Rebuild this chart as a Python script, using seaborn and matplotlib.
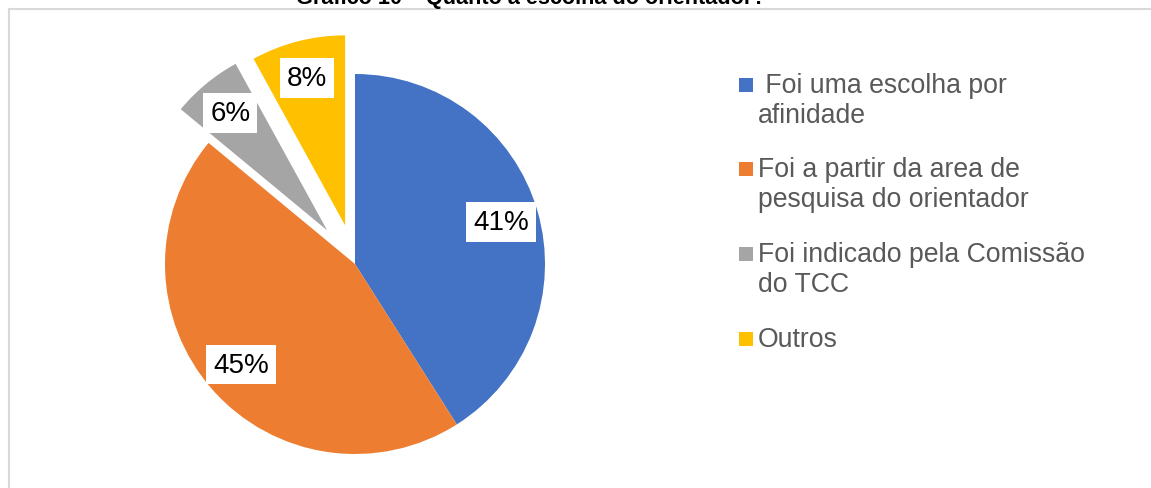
import matplotlib
matplotlib.use("Agg")
import matplotlib.pyplot as plt
import seaborn as sns
from matplotlib.lines import Line2D
from matplotlib.patches import Rectangle

categories = [" Foi uma escolha por\nafinidade",
              "Foi a partir da area de\npesquisa do orientador",
              "Foi indicado pela Comissão\ndo TCC",
              "Outros"]
values = [41, 45, 6, 8]
pct_labels = ["41%", "45%", "6%", "8%"]
colors = ["#4472C4", "#ED7D31", "#A5A5A5", "#FFC000"]
explode = [0, 0, 0.23, 0.21]
title = "Gráfico 10 – Quanto à escolha do orientador?"

sns.set_theme(style="white")
plt.rcParams["font.family"] = ["Liberation Sans", "DejaVu Sans"]

W, H = 1151, 489
fig = plt.figure(figsize=(W / 100, H / 100), dpi=100)

R = 190.0
cx, cy = 355.0, 265.0
half = 1.4
ax = fig.add_axes([(cx - half * R) / W, (H - cy - half * R) / H, 2 * half * R / W, 2 * half * R / H])

wedges, texts = ax.pie(values, colors=colors, startangle=90, counterclock=False,
                       explode=explode, labels=pct_labels, labeldistance=0.8,
                       textprops=dict(fontsize=20, color="black", ha="center", va="center"),
                       wedgeprops=dict(linewidth=0))
for t in texts:
    t.set_bbox(dict(facecolor="white", edgecolor="none", pad=5))
ax.set_xlim(-half, half)
ax.set_ylim(-half, half)
ax.axis("off")

fig.text(530.5 / W, 1 - 4 / H, title, ha="center", va="baseline", fontweight="bold", fontsize=15.6, color="black")

fig.add_artist(Line2D([9 / W, 1], [1 - 10 / H, 1 - 10 / H], color="#D9D9D9", linewidth=1.5, transform=fig.transFigure))
fig.add_artist(Line2D([9 / W, 9 / W], [0, 1 - 10 / H], color="#D9D9D9", linewidth=1.5, transform=fig.transFigure))

# legend (drawn manually so squares align with the first line of each label)
leg_y = [86, 170, 255, 340]
sq = 14
line_h = 30
for i, (lab, col) in enumerate(zip(categories, colors)):
    yc = leg_y[i]
    n = lab.count("\n")
    fig.add_artist(Rectangle((739 / W, 1 - (yc + sq / 2) / H), sq / W, sq / H,
                             facecolor=col, edgecolor="none", transform=fig.transFigure))
    fig.text(758 / W, 1 - (yc + 7 + n * line_h) / H, lab, ha="left", va="baseline", fontsize=19.2,
             color="#595959", linespacing=1.2)

fig.savefig("out.png", dpi=100)
